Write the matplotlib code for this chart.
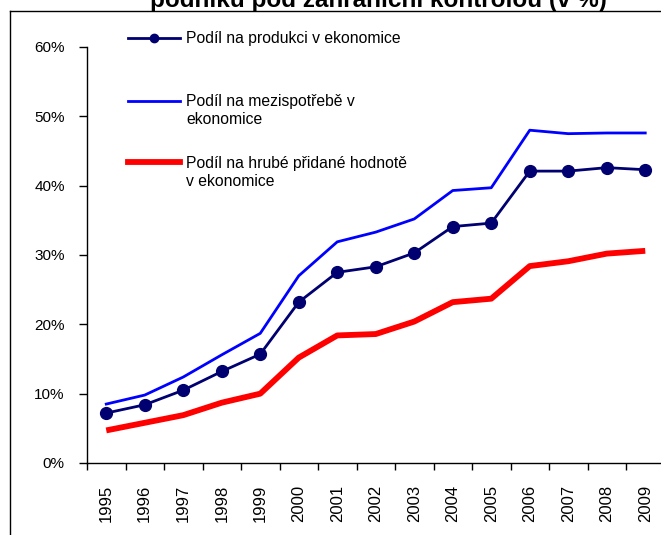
import numpy as np
import matplotlib.pyplot as plt
from matplotlib.lines import Line2D

plt.rcParams['font.family'] = ['Liberation Sans', 'DejaVu Sans']

roky = ['1995', '1996', '1997', '1998', '1999', '2000', '2001', '2002',
        '2003', '2004', '2005', '2006', '2007', '2008', '2009']
produkce = [7.2, 8.4, 10.5, 13.2, 15.7, 23.2, 27.5, 28.3, 30.3, 34.1, 34.6, 42.1, 42.1, 42.6, 42.3]
mezispotreba = [8.5, 9.8, 12.4, 15.6, 18.7, 27.0, 31.9, 33.3, 35.2, 39.3, 39.7, 48.0, 47.5, 47.6, 47.6]
hph = [4.7, 5.8, 6.9, 8.7, 10.0, 15.2, 18.4, 18.6, 20.4, 23.2, 23.7, 28.4, 29.1, 30.2, 30.6]

W, H = 661, 535
fig = plt.figure(figsize=(W / 100, H / 100), dpi=100)
ax = fig.add_axes([87 / W, 1 - 463 / H, 577.5 / W, 416 / H])

x = np.arange(len(roky))
ax.plot(x, np.array(mezispotreba) / 100, color='#0000ff', lw=2.0)
ax.plot(x, np.array(hph) / 100, color='#ff0000', lw=4.2, solid_capstyle='butt')
ax.plot(x, np.array(produkce) / 100, color='#000070', lw=2.0, marker='o', ms=8.5)

ax.set_xlim(-0.5, len(roky) - 0.5)
ax.set_ylim(0, 0.6)
ax.set_yticks(np.arange(0, 0.61, 0.1))
ax.set_yticklabels([f'{int(round(v * 100))}%' for v in np.arange(0, 0.61, 0.1)])
ax.set_xticks(x)
ax.set_xticklabels(roky, rotation=90)
ax.set_xticks(np.arange(-0.5, len(roky), 1), minor=True)
ax.tick_params(axis='x', which='major', length=0, pad=15.5, labelsize=12)
ax.tick_params(axis='x', which='minor', length=5, width=1, direction='out')
ax.tick_params(axis='y', length=6, width=1, direction='out', pad=10, labelsize=11)
for s in ['top', 'right']:
    ax.spines[s].set_visible(False)
for s in ['left', 'bottom']:
    ax.spines[s].set_linewidth(1)

# legenda
def fx(px):
    return px / W

def fy(py):
    return 1 - py / H

fig.add_artist(Line2D([fx(128), fx(180)], [fy(38), fy(38)], color='#000070', lw=2.0))
fig.add_artist(Line2D([fx(154)], [fy(38)], color='#000070', marker='o', ms=6))
fig.add_artist(Line2D([fx(128), fx(180)], [fy(101), fy(101)], color='#0000ff', lw=2.0))
fig.add_artist(Line2D([fx(128), fx(180)], [fy(162), fy(162)], color='#ff0000', lw=4.2))
txt = dict(fontsize=11.3, va='center', ha='left', linespacing=1.25)
fig.text(fx(186), fy(38), 'Podíl na produkci v ekonomice', **txt)
fig.text(fx(186), fy(110.5), 'Podíl na mezispotřebě v\nekonomice', **txt)
fig.text(fx(186), fy(172), 'Podíl na hrubé přidané hodnotě\nv ekonomice', **txt)

# ramecek a titulek
fig.add_artist(Line2D([fx(9.5), 1], [fy(10.5), fy(10.5)], color='black', lw=1))
fig.add_artist(Line2D([fx(9.5), fx(9.5)], [fy(10.5), 0], color='black', lw=1))
fig.text(fx(378), fy(7), 'podniků pod zahraniční kontrolou (v %)', fontsize=17.5,
         fontweight='bold', ha='center', va='baseline')

fig.savefig('out.png', dpi=100)
